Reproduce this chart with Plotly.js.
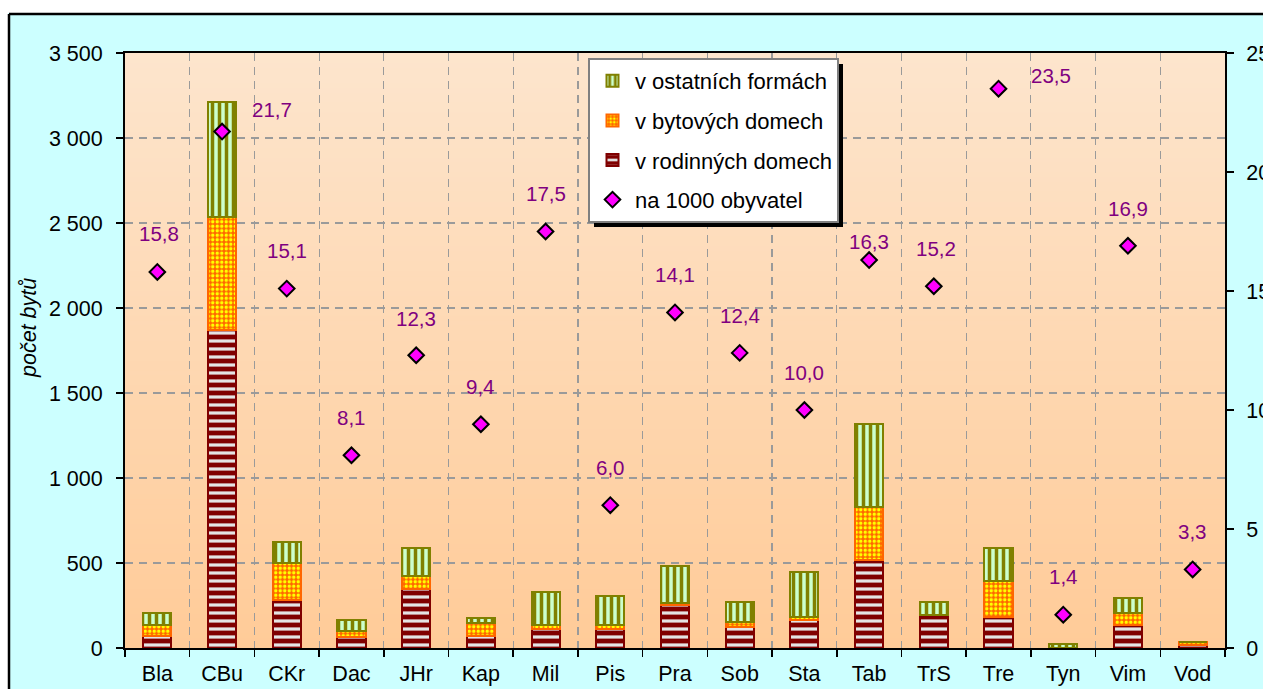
<!DOCTYPE html>
<html><head><meta charset="utf-8">
<script src="https://cdn.plot.ly/plotly-3.0.1.min.js"></script>
<style>html,body{margin:0;padding:0;background:#fff}#chart{width:1263px;height:689px}</style>
</head><body><div id="chart"></div>
<script>
// ---- data ----
const categories = ['Bla','CBu','CKr','Dac','JHr','Kap','Mil','Pis','Pra','Sob','Sta','Tab','TrS','Tre','Tyn','Vim','Vod'];
const rodinne  = [70,1872,284,62,345,72,112,112,251,121,166,519,192,180,0,133,15];
const bytove   = [63,661,214,36,80,75,21,21,14,34,14,308,0,212,0,73,22];
const ostatni  = [74,676,123,67,161,29,196,173,217,116,267,488,79,196,25,86,0];
const na1000   = [15.8,21.7,15.1,8.1,12.3,9.4,17.5,6.0,14.1,12.4,10.0,16.3,15.2,23.5,1.4,16.9,3.3];
const seriesNames = ['v rodinných domech','v bytových domech','v ostatních formách','na 1000 obyvatel'];
const yTitle = 'počet bytů';

// ---- styling (label placement offsets in pixels) ----
const labelDx = [2,50,0,0,0,0,0,0,0,0,0,0,2,52,0,0,0];
const labelDy = [38,22,38,38,37,38,38,38,38,37,38,19,38,13,38,37,38];

const W = 1263, H = 689, L = 125, R = 38, T = 53, B = 41;
const PW = W - L - R, PH = H - T - B;
const px = v => (v - L) / PW;
const py = v => (H - B - v) / PH;
const FONT = 'Liberation Sans, Arial, sans-serif';
const FS = 21.5;

const traces = [
  {type:'bar', name:seriesNames[0], x:categories, y:rodinne, legendgroup:'g3', legendrank:3,
   marker:{color:'#e4e4e4', line:{color:'#800000', width:2},
     pattern:{shape:'-', fgcolor:'#800000', bgcolor:'#e4e4e4', size:8, solidity:0.6, fillmode:'replace'}},
   hoverinfo:'skip'},
  {type:'bar', name:seriesNames[1], x:categories, y:bytove, legendgroup:'g2', legendrank:2,
   marker:{color:'#FF6600', line:{color:'#FF6600', width:2},
     pattern:{shape:'.', fgcolor:'#FFFF00', bgcolor:'#FF6600', size:4.5, solidity:0.45, fillmode:'replace'}},
   hoverinfo:'skip'},
  {type:'bar', name:seriesNames[2], x:categories, y:ostatni, legendgroup:'g1', legendrank:1,
   marker:{color:'#ccffcc', line:{color:'#808000', width:2},
     pattern:{shape:'|', fgcolor:'#808000', bgcolor:'#ccffcc', size:7, solidity:0.5, fillmode:'replace'}},
   hoverinfo:'skip'},
  {type:'scatter', mode:'markers', name:seriesNames[3], x:categories, y:na1000, yaxis:'y2',
   legendgroup:'g4', legendrank:4,
   marker:{symbol:'diamond', size:12, color:'#FF00FF', line:{color:'#000', width:2}},
   hoverinfo:'skip'}
];

const annotations = na1000.map((v,i)=>({
  x: categories[i], y: v, xref:'x', yref:'y2', showarrow:false,
  text: v.toFixed(1).replace('.', ','), xshift: labelDx[i], yshift: labelDy[i],
  font:{family:FONT, size:20.5, color:'#800080'}
}));
annotations.push({
  x: px(29), y: py(328), xref:'paper', yref:'paper', xanchor:'center', yanchor:'middle',
  showarrow:false, textangle:-90,
  text:'<i>'+yTitle+'</i>', font:{family:FONT, size:FS, color:'#000'}
});

const shapes = [];
// plot area gradient
const N = 120, c0 = [253,229,205], c1 = [255,203,152];
for (let k=0; k<N; k++) {
  const t = (k+0.5)/N;
  const c = c0.map((a,j)=>Math.round(a + (c1[j]-a)*t));
  shapes.push({type:'rect', xref:'paper', yref:'paper', x0:0, x1:1, y0:1-(k+1)/N-0.002, y1:1-k/N,
    fillcolor:`rgb(${c[0]},${c[1]},${c[2]})`, line:{width:0}, layer:'below'});
}
// white margins outside frame
shapes.push({type:'rect', xref:'paper', yref:'paper', x0:px(-5), x1:px(W+5), y0:py(13), y1:py(-5), fillcolor:'#fff', line:{width:0}, layer:'below'});
shapes.push({type:'rect', xref:'paper', yref:'paper', x0:px(-5), x1:px(8), y0:py(H+5), y1:py(-5), fillcolor:'#fff', line:{width:0}, layer:'below'});
// frame lines
shapes.push({type:'line', xref:'paper', yref:'paper', x0:px(9), x1:px(W+5), y0:py(14), y1:py(14), line:{color:'#000', width:2.5}, layer:'below'});
shapes.push({type:'line', xref:'paper', yref:'paper', x0:px(9), x1:px(9), y0:py(14), y1:py(H+5), line:{color:'#000', width:2.5}, layer:'below'});

const layout = {
  width:W, height:H, margin:{l:L, r:R, t:T, b:B, pad:0},
  paper_bgcolor:'#CCFFFF', plot_bgcolor:'rgba(0,0,0,0)',
  separators:', ',
  font:{family:FONT, size:FS, color:'#000'},
  barmode:'stack', bargap:0.565,
  showlegend:true,
  legend:{x:px(588), y:py(58), xanchor:'left', yanchor:'top', bgcolor:'#fff',
    bordercolor:'#808080', borderwidth:2, font:{family:FONT, size:22, color:'#000'},
    traceorder:'grouped', tracegroupgap:8, itemwidth:35, itemclick:false},
  xaxis:{type:'category', range:[-0.5, categories.length-0.5], tickson:'boundaries',
    ticks:'outside', ticklen:7, tickwidth:1.5, tickcolor:'#000',
    showgrid:true, gridcolor:'#9a9a9a', griddash:'8px,6px', gridwidth:1.2,
    showline:true, linecolor:'#000', linewidth:2, mirror:true,
    tickfont:{family:FONT, size:FS}, ticklabelstandoff:5, fixedrange:true},
  yaxis:{range:[0,3500], dtick:500, tickformat:',d', ticks:'outside', ticklen:7, tickwidth:1.5, tickcolor:'#000',
    showgrid:true, gridcolor:'#9a9a9a', griddash:'8px,6px', gridwidth:1.2, zeroline:false,
    showline:true, linecolor:'#000', linewidth:2, mirror:true,
    tickfont:{family:FONT, size:FS}, ticklabelstandoff:9, fixedrange:true},
  yaxis2:{range:[0,25], dtick:5, overlaying:'y', side:'right', showgrid:false, zeroline:false,
    ticks:'outside', ticklen:7, tickwidth:1.5, tickcolor:'#000', showline:true, linecolor:'#000', linewidth:2,
    tickfont:{family:FONT, size:FS}, ticklabelstandoff:8, fixedrange:true},
  shapes:shapes, annotations:annotations
};

Plotly.newPlot('chart', traces, layout, {displayModeBar:false, staticPlot:true}).then(gd => {
  // legend drop shadow, sized to the drawn legend box
  const bg = gd.querySelector('.legend .bg');
  if (!bg) return;
  const r = bg.getBoundingClientRect(), c = gd.getBoundingClientRect();
  const x0 = r.left - c.left + 5, x1 = r.right - c.left + 5;
  const y0 = r.top - c.top + 5, y1 = r.bottom - c.top + 5;
  const sh = gd.layout.shapes.slice();
  sh.push({type:'rect', xref:'paper', yref:'paper', x0:px(x0), x1:px(x1), y0:py(y1), y1:py(y0),
    fillcolor:'#000', line:{width:0}, layer:'above'});
  return Plotly.relayout(gd, {shapes: sh});
});
</script>
</body></html>
